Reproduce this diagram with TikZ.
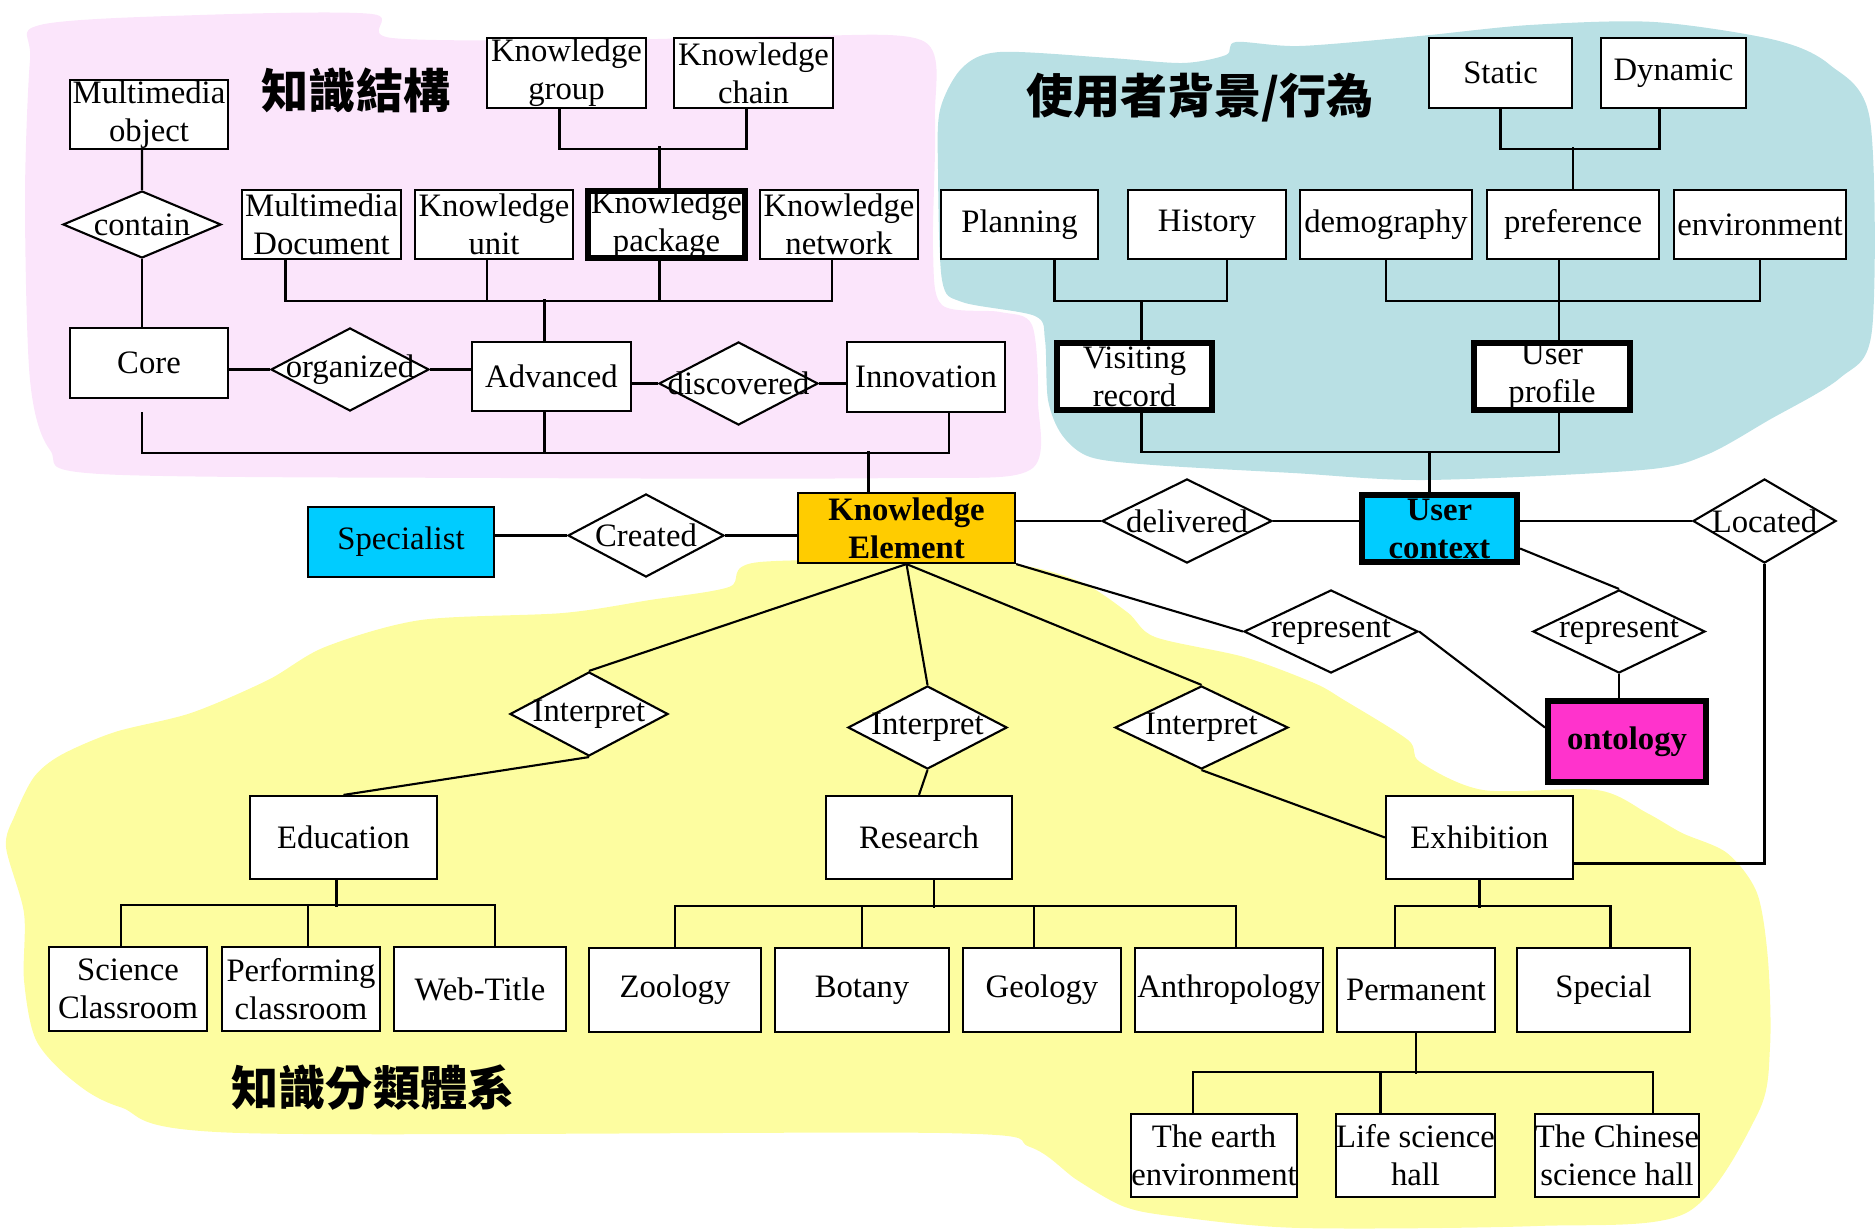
\documentclass[tikz,border=0pt]{standalone}
\usepackage{fontspec}
\setmainfont{Liberation Serif}
\newfontfamily\cjk{Noto Sans CJK TC}
\usepackage{xcolor}
\usetikzlibrary{shapes.geometric, calc}
\definecolor{structpink}{RGB}{251,229,251}
\definecolor{userteal}{RGB}{185,224,228}
\definecolor{classyellow}{RGB}{253,253,160}
\definecolor{keyorange}{RGB}{255,204,0}
\definecolor{skyblue}{RGB}{0,204,255}
\definecolor{ontopink}{RGB}{255,51,204}

\begin{document}
\begin{tikzpicture}[x=0.01cm, y=-0.01cm, line width=0.6pt,
    font=\fontsize{9.3}{10.8}\selectfont,
    box/.style={draw, fill=white, inner sep=0pt, align=center, minimum height=0.69cm},
    keybox/.style={box, line width=1.7pt},
    leaf/.style={box, minimum height=0.84cm},
    rel/.style={diamond, draw, fill=white, inner sep=0pt, label={center:#1}},
    heading/.style={font=\cjk\bfseries\fontsize{13.4}{16}\selectfont, inner sep=0pt}]
\useasboundingbox (0,0) rectangle (1876,1231);
% === background regions ===
\fill[structpink] plot[smooth cycle] coordinates {(40,25) (200,15) (372,14) (392,38) (600,40) (800,36) (925,42)
    (935,120) (933,250) (942,305) (1000,312) (1032,325) (1038,400) (1030,470) (900,478) (500,478) (100,474)
    (50,450) (30,380) (25,200) (30,60)};
\fill[userteal] plot[smooth cycle] coordinates {(940,110) (962,68) (1000,52) (1110,58) (1183,63) (1226,55)
    (1236,42) (1300,46) (1420,36) (1530,25) (1654,22) (1775,40) (1830,65) (1870,120) (1872,330) (1840,378)
    (1769,420) (1706,455) (1642,470) (1426,480) (1293,473) (1153,465) (1090,457) (1062,435) (1048,400)
    (1045,340) (1035,316) (962,302) (942,280) (938,170)};
\fill[classyellow] plot[smooth cycle] coordinates {(6,847) (15,815) (34,777) (61,755) (115,732) (191,713)
    (268,680) (325,647) (421,620) (563,613) (650,600) (729,587) (760,562) (990,562) (1076,580) (1127,612)
    (1155,637) (1244,657) (1314,683) (1344,700) (1408,740) (1420,762) (1483,790) (1597,790) (1647,813)
    (1682,833) (1727,853) (1757,893) (1768,960) (1770,1047) (1758,1113) (1686,1213) (1537,1226) (1300,1228)
    (1179,1217) (1125,1207) (1077,1180) (1030,1147) (940,1133) (240,1133) (120,1107) (72,1080) (36,1040)
    (24,980) (24,913)};
% === headings ===
\node[heading] (hstruct) at (356,90) {知識結構};
\node[heading] (huser) at (1200,98) {使用者背景/行為};
\node[heading] (hclass) at (373,1088) {知識分類體系};
% === knowledge structure ===
\node[box, minimum width=1.58cm] (mmobj) at (149,114.5) {Multimedia\\object};
\node[box, minimum width=1.59cm, minimum height=0.70cm] (kgroup) at (566.5,73) {Knowledge\\group};
\node[box, minimum width=1.59cm, minimum height=0.70cm] (kchain) at (753.5,73) {Knowledge\\chain};
\node[rel=contain, minimum width=1.58cm, minimum height=0.67cm] (contain) at (142,224.5) {};
\node[box, minimum width=1.59cm] (mmdoc) at (321.5,224.5) {Multimedia\\Document};
\node[box, minimum width=1.58cm] (kunit) at (494,224.5) {Knowledge\\unit};
\node[keybox, minimum width=1.56cm, minimum height=0.66cm] (kpack) at (666.5,224.5) {Knowledge\\package};
\node[box, minimum width=1.58cm] (knet) at (839,224.5) {Knowledge\\network};
\node[box, minimum width=1.58cm, minimum height=0.70cm] (core) at (149,363) {Core};
\node[rel=organized, minimum width=1.58cm, minimum height=0.83cm] (organized) at (350,369.5) {};
\node[box, minimum width=1.59cm] (advanced) at (551.5,376.5) {Advanced};
\node[rel=discovered, minimum width=1.59cm, minimum height=0.83cm] (discovered) at (738.5,383.5) {};
\node[box, minimum width=1.58cm, minimum height=0.70cm] (innovation) at (926,377) {Innovation};
% === user background ===
\node[box, minimum width=1.43cm, minimum height=0.70cm] (static) at (1500.5,73) {Static};
\node[box, minimum width=1.45cm, minimum height=0.70cm] (dynamic) at (1673.5,73) {Dynamic};
\node[box, minimum width=1.57cm] (planning) at (1019.5,224.5) {Planning};
\node[box, minimum width=1.58cm] (history) at (1207,224.5) {History};
\node[box, minimum width=1.72cm] (demography) at (1386,224.5) {demography};
\node[box, minimum width=1.72cm] (preference) at (1573,224.5) {preference};
\node[box, minimum width=1.72cm] (environment) at (1760,224.5) {environment};
\node[keybox, minimum width=1.55cm, minimum height=0.67cm] (visiting) at (1134.5,376.5) {Visiting\\record};
\node[keybox, minimum width=1.56cm, minimum height=0.67cm] (userprof) at (1552,376.5) {User\\profile};
% === centre row ===
\node[box, fill=skyblue, minimum width=1.86cm, minimum height=0.70cm] (specialist) at (401,542) {Specialist};
\node[rel=Created, minimum width=1.56cm, minimum height=0.83cm] (created) at (646,535.5) {};
\node[box, fill=keyorange, minimum width=2.17cm, minimum height=0.70cm] (ke) at (906.5,528) {\textbf{Knowledge}\\\textbf{Element}};
\node[rel=delivered, minimum width=1.70cm, minimum height=0.84cm] (delivered) at (1187,521) {};
\node[keybox, fill=skyblue, minimum width=1.55cm, minimum height=0.67cm] (uc) at (1439.5,528.5) {\textbf{User}\\\textbf{context}};
\node[rel=Located, minimum width=1.43cm, minimum height=0.84cm] (located) at (1764.5,521) {};
\node[rel=represent, minimum width=1.74cm, minimum height=0.83cm] (rep1) at (1331,631.5) {};
\node[rel=represent, minimum width=1.72cm, minimum height=0.83cm] (rep2) at (1619,631.5) {};
\node[keybox, fill=ontopink, minimum width=1.58cm, minimum height=0.81cm] (ontology) at (1627,741.5) {\textbf{ontology}};
% === classification ===
\node[rel=Interpret, minimum width=1.58cm, minimum height=0.84cm] (interp1) at (589,714) {};
\node[rel=Interpret, minimum width=1.59cm, minimum height=0.83cm] (interp2) at (927.5,727.5) {};
\node[rel=Interpret, minimum width=1.73cm, minimum height=0.83cm] (interp3) at (1201.5,727.5) {};
\node[box, minimum width=1.87cm, minimum height=0.83cm] (education) at (343.5,837.5) {Education};
\node[box, minimum width=1.86cm, minimum height=0.83cm] (research) at (919,837.5) {Research};
\node[box, minimum width=1.87cm, minimum height=0.83cm] (exhibition) at (1479.5,837.5) {Exhibition};
\node[leaf, minimum width=1.58cm] (sciclass) at (128,989) {Science\\Classroom};
\node[leaf, minimum width=1.58cm] (perfclass) at (301,989) {Performing\\classroom};
\node[leaf, minimum width=1.72cm] (webtitle) at (480,989) {Web-Title};
\node[leaf, minimum width=1.72cm] (zoology) at (675,990) {Zoology};
\node[leaf, minimum width=1.74cm] (botany) at (862,990) {Botany};
\node[leaf, minimum width=1.58cm] (geology) at (1042,990) {Geology};
\node[leaf, minimum width=1.88cm] (anthro) at (1229,990) {Anthropology};
\node[leaf, minimum width=1.58cm] (permanent) at (1416,990) {Permanent};
\node[leaf, minimum width=1.73cm] (special) at (1603.5,990) {Special};
\node[leaf, minimum width=1.58cm, minimum height=0.83cm] (earth) at (1214,1155.5) {The earth\\environment};
\node[leaf, minimum width=1.57cm, minimum height=0.83cm] (lifesci) at (1415.5,1155.5) {Life science\\hall};
\node[leaf, minimum width=1.58cm, minimum height=0.83cm] (chinese) at (1617,1155.5) {The Chinese\\science hall};
% === connectors: knowledge structure ===
\draw ([xshift=-0.07cm]kgroup.south) -- ++(0,40) -| ([xshift=-0.07cm]kchain.south);
\draw ([xshift=-0.07cm]kpack.north) -- ++(0,-42);
\draw ([xshift=-0.07cm]mmobj.south) -- (contain.north);
\draw (contain.south) -- (contain.south |- core.north);
\draw ([xshift=-0.36cm]mmdoc.south) -- ++(0,41) -| ([xshift=-0.07cm]knet.south);
\draw ([xshift=-0.07cm]kunit.south) -- ++(0,41);
\draw ([xshift=-0.07cm]kpack.south) -- ++(0,41);
\draw ([xshift=-0.07cm]advanced.north) -- ++(0,-42);
\draw (organized.west -| core.east) -- (organized.west);
\draw (organized.east) -- (organized.east -| advanced.west);
\draw (discovered.west -| advanced.east) -- (discovered.west);
\draw (discovered.east) -- (discovered.east -| innovation.west);
\draw ([xshift=-0.07cm, yshift=-0.13cm]core.south) -- ++(0,41) -| ([xshift=0.23cm]innovation.south);
\draw ([xshift=-0.07cm]advanced.south) -- ++(0,41);
\draw ([xshift=-0.38cm]ke.north) -- ++(0,-41);
% === connectors: user background ===
\draw (static.south) -- ++(0,40) -| ([xshift=-0.14cm]dynamic.south);
\draw (preference.north) -- ++(0,-42);
\draw ([xshift=0.35cm]planning.south) -- ++(0,41) -| ([xshift=0.2cm]history.south);
\draw ([xshift=0.07cm]visiting.north) -- ++(0,-40);
\draw (demography.south) -- ++(0,41) -| (environment.south);
\draw ([xshift=-0.14cm]preference.south) -- ++(0,81);
\draw ([xshift=0.07cm]visiting.south) -- ++(0,39) -| ([xshift=0.07cm]userprof.south);
\draw ([xshift=-0.1cm]uc.north) -- ++(0,-40);
% === connectors: centre row ===
\draw (created.west -| specialist.east) -- (created.west);
\draw (created.east) -- (created.east -| ke.west);
\draw (delivered.west -| ke.east) -- (delivered.west);
\draw (delivered.east) -- (delivered.east -| uc.west);
\draw (located.west -| uc.east) -- (located.west);
\draw (ke.south east) -- (rep1.west);
\draw (rep1.east) -- ($(ontology.west)+(0,-14)$);
\draw ($(uc.east)+(0,20)$) -- (rep2.north);
\draw (rep2.south) -- (rep2.south |- ontology.north);
\draw (located.south) |- ($(exhibition.east)+(0,26)$);
% === connectors: classification ===
\draw (ke.south) -- (interp1.north);
\draw (ke.south) -- (interp2.north);
\draw (ke.south) -- (interp3.north);
\draw (interp1.south) -- (education.north);
\draw (interp2.south) -- (research.north);
\draw (interp3.south) -- (exhibition.west);
\draw ([xshift=-0.07cm]education.south) -- ++(0,27);
\draw ([xshift=-0.07cm]sciclass.north) -- ++(0,-41) -| ([xshift=0.15cm]webtitle.north);
\draw ([xshift=0.07cm]perfclass.north) -- ++(0,-41);
\draw ([xshift=0.15cm]research.south) -- ++(0,28);
\draw (zoology.north) -- ++(0,-41) -| ([xshift=0.07cm]anthro.north);
\draw (botany.north) -- ++(0,-41);
\draw ([xshift=-0.08cm]geology.north) -- ++(0,-41);
\draw (exhibition.south) -- ++(0,28);
\draw ([xshift=-0.21cm]permanent.north) -- ++(0,-41) -| ([xshift=0.07cm]special.north);
\draw (permanent.south) -- ++(0,41);
\draw ([xshift=-0.21cm]earth.north) -- ++(0,-41) -| ([xshift=0.36cm]chinese.north);
\draw ([xshift=-0.35cm]lifesci.north) -- ++(0,-41);
\end{tikzpicture}
\end{document}
